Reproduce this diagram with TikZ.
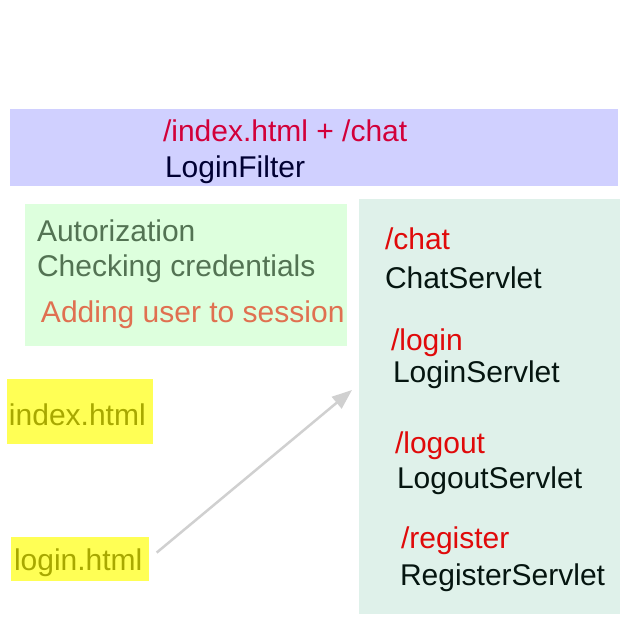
\documentclass[tikz,border=0pt]{standalone}
\usepackage{fontspec}
\setmainfont{Liberation Sans}
\usetikzlibrary{arrows.meta}
\definecolor{bandblue}{HTML}{D0D0FF}
\definecolor{authgreen}{HTML}{DDFFDD}
\definecolor{servteal}{HTML}{DFF1EA}
\definecolor{pageyellow}{HTML}{FFFF55}
\definecolor{olivetxt}{HTML}{A8A800}
\definecolor{greytxt}{HTML}{537353}
\definecolor{coraltxt}{HTML}{E07050}
\definecolor{crimsontxt}{HTML}{D2003A}
\definecolor{urltxt}{HTML}{E00A0A}
\definecolor{navytxt}{HTML}{000033}
\definecolor{classtxt}{HTML}{051510}
\definecolor{arrowgrey}{HTML}{D0D0D0}
\tikzset{
  area/.style={draw=none, inner sep=0pt, outer sep=0pt, anchor=north west},
  lbl/.style={inner sep=0pt, outer sep=0pt, anchor=base west,
              font=\fontsize{30}{35}\selectfont},
  flow/.style={draw=arrowgrey, line width=2.5pt,
               -{Triangle[length=20pt,width=15pt]}}
}
\begin{document}
\begin{tikzpicture}[x=1pt, y=-1pt]
\useasboundingbox (0,0) rectangle (630,630);

% coloured areas
\node[area, fill=bandblue, minimum width=608pt, minimum height=77pt] (filter) at (10,109) {};
\node[area, fill=authgreen, minimum width=322pt, minimum height=142pt] (auth) at (25,204) {};
\node[area, fill=servteal, minimum width=261pt, minimum height=415pt] (servlets) at (359,199) {};
\node[area, fill=pageyellow, minimum width=146pt, minimum height=65pt] (index) at (7,379) {};
\node[area, fill=pageyellow, minimum width=138pt, minimum height=44pt] (login) at (11,537) {};

% filter
\node[lbl, text=crimsontxt] (filterurl) at (163,141) {/index.html + /chat};
\node[lbl, text=navytxt] (filtername) at (165,177) {LoginFilter};

% filter duties
\node[lbl, text=greytxt] (duty1) at (37,241) {Autorization};
\node[lbl, text=greytxt] (duty2) at (37,276) {Checking credentials};
\node[lbl, text=coraltxt] (duty3) at (41,322) {Adding user to session};

% pages
\node[lbl, text=olivetxt] (indextxt) at (9,425) {index.html};
\node[lbl, text=olivetxt] (logintxt) at (14,570) {login.html};

% servlets
\node[lbl, text=urltxt] (chaturl) at (385,249) {/chat};
\node[lbl, text=classtxt] (chatcls) at (385,288) {ChatServlet};
\node[lbl, text=urltxt] (loginurl) at (391,350) {/login};
\node[lbl, text=classtxt] (logincls) at (393,382) {LoginServlet};
\node[lbl, text=urltxt] (logouturl) at (395,453) {/logout};
\node[lbl, text=classtxt] (logoutcls) at (397,488) {LogoutServlet};
\node[lbl, text=urltxt] (regurl) at (401,548) {/register};
\node[lbl, text=classtxt] (regcls) at (400,585) {RegisterServlet};

% request from the login page
\coordinate (target) at (352,390);
\draw[flow, shorten <=10pt] (login.east) -- (target);
\end{tikzpicture}
\end{document}
